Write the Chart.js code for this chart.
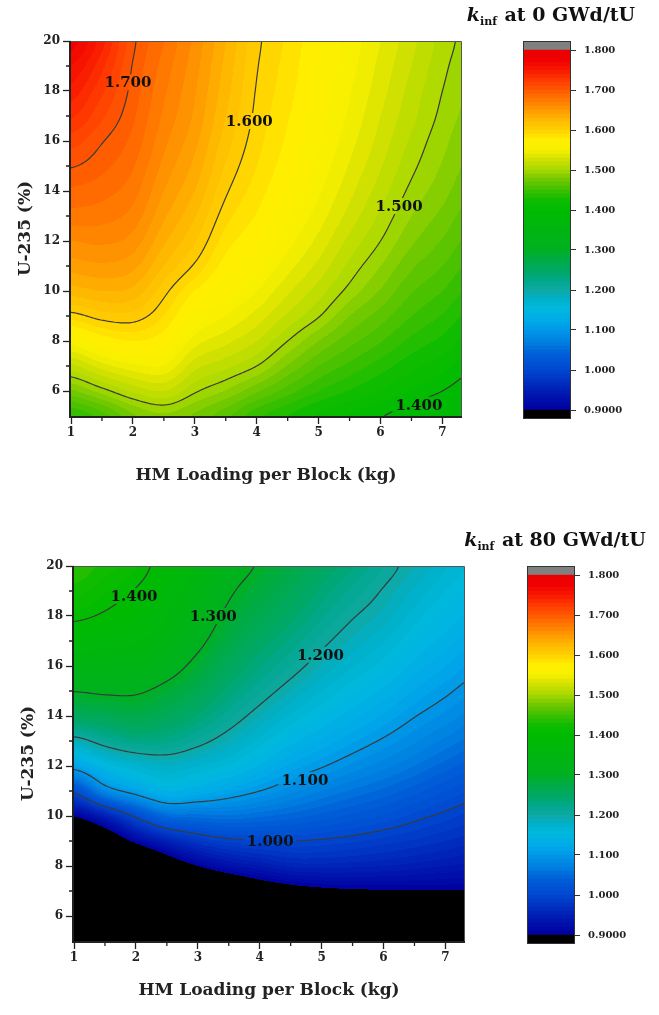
<!DOCTYPE html>
<html>
<head>
<meta charset="utf-8">
<title>k-inf maps</title>
<script src="https://cdn.jsdelivr.net/npm/chart.js@4.4.1/dist/chart.umd.min.js"></script>
<style>
  html, body { margin: 0; padding: 0; background: #fff; width: 659px; height: 1015px; overflow: hidden; }
  canvas { position: absolute; }
</style>
</head>
<body>
<canvas id="map0" width="500" height="500" style="left:0px;top:0px"></canvas>
<canvas id="bar0" width="219" height="500" style="left:440px;top:0px"></canvas>
<canvas id="map80" width="500" height="490" style="left:3px;top:525px"></canvas>
<canvas id="bar80" width="219" height="490" style="left:444px;top:525px"></canvas>
<script>
// grid axes: HM loading per block (kg) across, U-235 enrichment (%) top to bottom
const loading = [1, 1.5, 2, 2.5, 3, 3.5, 4, 4.5, 5, 5.5, 6, 6.5, 7, 7.5];
const enrichment = [20, 19, 18, 17, 16, 15, 14, 13, 12, 11, 10, 9, 8, 7, 6, 5];

// k-inf at 0 GWd/tU, one row per enrichment value
const kinf0 = [
  [1.775, 1.744, 1.703, 1.680, 1.657, 1.630, 1.603, 1.588, 1.571, 1.556, 1.540, 1.523, 1.506, 1.494],
  [1.760, 1.733, 1.699, 1.676, 1.654, 1.627, 1.601, 1.586, 1.569, 1.554, 1.537, 1.520, 1.503, 1.491],
  [1.746, 1.722, 1.696, 1.672, 1.651, 1.624, 1.599, 1.584, 1.567, 1.551, 1.534, 1.516, 1.500, 1.488],
  [1.732, 1.712, 1.692, 1.668, 1.648, 1.620, 1.597, 1.581, 1.564, 1.548, 1.530, 1.513, 1.497, 1.485],
  [1.715, 1.701, 1.687, 1.663, 1.643, 1.615, 1.594, 1.578, 1.561, 1.544, 1.526, 1.508, 1.493, 1.481],
  [1.701, 1.693, 1.681, 1.657, 1.637, 1.609, 1.590, 1.574, 1.557, 1.539, 1.521, 1.503, 1.489, 1.476],
  [1.688, 1.684, 1.674, 1.650, 1.630, 1.602, 1.585, 1.569, 1.552, 1.533, 1.515, 1.497, 1.484, 1.470],
  [1.676, 1.674, 1.666, 1.642, 1.621, 1.594, 1.579, 1.562, 1.545, 1.526, 1.508, 1.490, 1.477, 1.463],
  [1.660, 1.662, 1.656, 1.632, 1.611, 1.585, 1.571, 1.554, 1.537, 1.517, 1.500, 1.482, 1.469, 1.455],
  [1.645, 1.648, 1.643, 1.620, 1.598, 1.575, 1.561, 1.544, 1.527, 1.507, 1.490, 1.472, 1.460, 1.446],
  [1.625, 1.630, 1.627, 1.604, 1.580, 1.564, 1.550, 1.532, 1.515, 1.496, 1.479, 1.461, 1.450, 1.436],
  [1.595, 1.605, 1.606, 1.590, 1.563, 1.550, 1.536, 1.518, 1.501, 1.480, 1.465, 1.450, 1.439, 1.425],
  [1.556, 1.572, 1.580, 1.572, 1.545, 1.533, 1.520, 1.500, 1.480, 1.464, 1.451, 1.437, 1.427, 1.414],
  [1.517, 1.535, 1.547, 1.549, 1.524, 1.513, 1.500, 1.479, 1.460, 1.447, 1.435, 1.423, 1.414, 1.402],
  [1.478, 1.495, 1.512, 1.520, 1.502, 1.489, 1.472, 1.455, 1.440, 1.429, 1.419, 1.409, 1.400, 1.390],
  [1.440, 1.455, 1.478, 1.488, 1.478, 1.463, 1.443, 1.430, 1.418, 1.409, 1.401, 1.393, 1.385, 1.376]
];

// k-inf at 80 GWd/tU
const kinf80 = [
  [1.440, 1.425, 1.412, 1.384, 1.355, 1.320, 1.296, 1.274, 1.251, 1.231, 1.210, 1.190, 1.171, 1.158],
  [1.425, 1.412, 1.398, 1.373, 1.342, 1.306, 1.281, 1.260, 1.237, 1.217, 1.198, 1.178, 1.160, 1.147],
  [1.406, 1.396, 1.382, 1.360, 1.328, 1.291, 1.266, 1.245, 1.222, 1.202, 1.186, 1.165, 1.148, 1.135],
  [1.375, 1.368, 1.362, 1.342, 1.310, 1.275, 1.249, 1.228, 1.206, 1.187, 1.171, 1.151, 1.135, 1.121],
  [1.340, 1.340, 1.336, 1.318, 1.288, 1.256, 1.231, 1.210, 1.189, 1.171, 1.155, 1.136, 1.120, 1.106],
  [1.301, 1.306, 1.305, 1.288, 1.264, 1.236, 1.212, 1.190, 1.170, 1.153, 1.137, 1.119, 1.104, 1.090],
  [1.255, 1.262, 1.270, 1.258, 1.238, 1.214, 1.190, 1.168, 1.150, 1.134, 1.118, 1.101, 1.087, 1.073],
  [1.188, 1.212, 1.226, 1.224, 1.208, 1.188, 1.166, 1.144, 1.128, 1.112, 1.097, 1.082, 1.067, 1.054],
  [1.113, 1.150, 1.170, 1.180, 1.170, 1.158, 1.138, 1.117, 1.102, 1.087, 1.074, 1.060, 1.045, 1.032],
  [1.010, 1.080, 1.113, 1.140, 1.130, 1.115, 1.100, 1.084, 1.070, 1.058, 1.047, 1.034, 1.020, 1.008],
  [0.903, 0.950, 1.006, 1.050, 1.055, 1.058, 1.052, 1.045, 1.036, 1.027, 1.018, 1.006, 0.995, 0.985],
  [0.800, 0.850, 0.910, 0.950, 0.978, 0.993, 0.998, 1.000, 0.997, 0.992, 0.985, 0.978, 0.970, 0.962],
  [0.700, 0.750, 0.800, 0.860, 0.900, 0.925, 0.940, 0.953, 0.955, 0.953, 0.950, 0.945, 0.940, 0.935],
  [0.600, 0.650, 0.700, 0.760, 0.800, 0.835, 0.862, 0.880, 0.890, 0.895, 0.897, 0.898, 0.898, 0.897],
  [0.500, 0.550, 0.600, 0.660, 0.700, 0.735, 0.765, 0.790, 0.810, 0.820, 0.830, 0.835, 0.840, 0.845],
  [0.400, 0.450, 0.500, 0.560, 0.600, 0.635, 0.665, 0.690, 0.710, 0.730, 0.745, 0.755, 0.760, 0.765]
];

const loadingTicks = [1, 2, 3, 4, 5, 6, 7];
const loadingMinor = [1.5, 2.5, 3.5, 4.5, 5.5, 6.5];
const enrichTicks = [6, 8, 10, 12, 14, 16, 18, 20];
const enrichMinor = [7, 9, 11, 13, 15, 17, 19];
const barTicks = [0.9, 1.0, 1.1, 1.2, 1.3, 1.4, 1.5, 1.6, 1.7, 1.8];
const barTickLabels = ['0.9000', '1.000', '1.100', '1.200', '1.300', '1.400', '1.500', '1.600', '1.700', '1.800'];
const contourLevels = [1.0, 1.1, 1.2, 1.3, 1.4, 1.5, 1.6, 1.7];
const burnupTitles = ['at 0 GWd/tU', 'at 80 GWd/tU'];

// where the inline contour labels sit (data units)
const labelSpots0 = [
  { level: 1.7, x: 1.92, y: 18.35 },
  { level: 1.6, x: 3.88, y: 16.8 },
  { level: 1.5, x: 6.30, y: 13.4 },
  { level: 1.4, x: 6.62, y: 5.45 }
];
const labelSpots80 = [
  { level: 1.4, x: 1.97, y: 18.8 },
  { level: 1.3, x: 3.25, y: 18.0 },
  { level: 1.2, x: 4.98, y: 16.45 },
  { level: 1.1, x: 4.73, y: 11.45 },
  { level: 1.0, x: 4.17, y: 9.0 }
];

// colour ramp for the filled bands
const cmapStops = [0.90, 0.94, 0.97, 1.00, 1.04, 1.07, 1.10, 1.12, 1.15, 1.18,
  1.20, 1.22, 1.25, 1.28, 1.30, 1.40,
  1.425, 1.45, 1.475, 1.50, 1.525, 1.55, 1.575, 1.60,
  1.625, 1.65, 1.675, 1.70, 1.725, 1.75, 1.775, 1.80];
const cmapColours = ['#0000a0', '#0018b0', '#0030c0', '#0048d0', '#0060d8', '#0080e0', '#0098e8', '#00a8e8', '#00b8e0', '#00b0c8',
  '#10a8a0', '#00a890', '#00a860', '#00ac40', '#00b020', '#00bb00',
  '#10bc00', '#40c000', '#70c800', '#a8d800', '#d0e000', '#f8f000', '#ffee00', '#ffd000',
  '#ffb800', '#ff9800', '#ff7800', '#ff5800', '#ff3800', '#f81800', '#f00000', '#e80000'];

const bandLow = 0.9, bandHigh = 1.8, bandStep = 0.01, capStep = 0.02;
const underRgb = [0, 0, 0], overRgb = [128, 128, 128];

Chart.defaults.font.family = "'DejaVu Serif', serif";
Chart.defaults.color = '#222';

function hexToRgb(h) {
  const n = parseInt(h.slice(1), 16);
  return [(n >> 16) & 255, (n >> 8) & 255, n & 255];
}
const stopRgb = cmapColours.map(hexToRgb);

function rampColour(v) {
  if (v <= cmapStops[0]) return stopRgb[0];
  for (let i = 1; i < cmapStops.length; i++) {
    if (v <= cmapStops[i]) {
      const t = (v - cmapStops[i - 1]) / (cmapStops[i] - cmapStops[i - 1]);
      const a = stopRgb[i - 1], b = stopRgb[i];
      return a.map((c, j) => Math.round(c + (b[j] - c) * t));
    }
  }
  return stopRgb[stopRgb.length - 1];
}

const bandCount = Math.round((bandHigh - bandLow) / bandStep);
const bandRgb = [];
for (let b = 0; b < bandCount; b++) bandRgb.push(rampColour(bandLow + (b + 0.5) * bandStep));

function bandColour(k) {
  if (k < bandLow) return underRgb;
  if (k >= bandHigh) return overRgb;
  return bandRgb[Math.min(bandCount - 1, Math.floor((k - bandLow) / bandStep + 1e-9))];
}

// Catmull-Rom through four neighbours
function cr(p0, p1, p2, p3, t) {
  return p1 + 0.5 * t * (p2 - p0 + t * (2 * p0 - 5 * p1 + 4 * p2 - p3 + t * (3 * (p1 - p2) + p3 - p0)));
}

function sampleGrid(grid, vx, vy) {
  const nx = loading.length, ny = enrichment.length;
  const fx = (vx - loading[0]) / (loading[1] - loading[0]);
  const fy = (vy - enrichment[0]) / (enrichment[1] - enrichment[0]);
  const ix = Math.max(0, Math.min(nx - 2, Math.floor(fx)));
  const iy = Math.max(0, Math.min(ny - 2, Math.floor(fy)));
  const tx = fx - ix, ty = fy - iy;
  const at = (r, c) => grid[Math.max(0, Math.min(ny - 1, r))][Math.max(0, Math.min(nx - 1, c))];
  const rows = [];
  for (let r = iy - 1; r <= iy + 2; r++) {
    rows.push(cr(at(r, ix - 1), at(r, ix), at(r, ix + 1), at(r, ix + 2), tx));
  }
  return cr(rows[0], rows[1], rows[2], rows[3], ty);
}

// filled bands, contour lines and inline labels inside the plot area
function mapPlugin(grid, spots) {
  return {
    id: 'kmap',
    beforeDatasetsDraw(chart) {
      const { ctx, chartArea: a, scales: { x, y } } = chart;
      const left = Math.round(a.left), top = Math.round(a.top);
      const w = Math.round(a.right) - left, h = Math.round(a.bottom) - top;

      const off = document.createElement('canvas');
      off.width = w; off.height = h;
      const octx = off.getContext('2d');
      const img = octx.createImageData(w, h);
      const vxs = [];
      for (let i = 0; i < w; i++) vxs.push(x.getValueForPixel(left + i + 0.5));
      for (let j = 0; j < h; j++) {
        const vy = y.getValueForPixel(top + j + 0.5);
        for (let i = 0; i < w; i++) {
          const c = bandColour(sampleGrid(grid, vxs[i], vy));
          const p = (j * w + i) * 4;
          img.data[p] = c[0]; img.data[p + 1] = c[1]; img.data[p + 2] = c[2]; img.data[p + 3] = 255;
        }
      }
      octx.putImageData(img, 0, 0);
      ctx.drawImage(off, left, top);

      // marching squares on a 2 px lattice
      const step = 2;
      const nx = Math.ceil(w / step), ny = Math.ceil(h / step);
      const px = [], py = [];
      for (let i = 0; i <= nx; i++) px.push(left + Math.min(w, i * step));
      for (let j = 0; j <= ny; j++) py.push(top + Math.min(h, j * step));
      const val = py.map(Y => {
        const vy = y.getValueForPixel(Y);
        return px.map(X => sampleGrid(grid, x.getValueForPixel(X), vy));
      });

      ctx.save();
      ctx.font = 'bold 15px "DejaVu Serif"';
      const placed = spots.map(s => {
        const text = s.level.toFixed(3);
        return { text, cx: x.getPixelForValue(s.x), cy: y.getPixelForValue(s.y), tw: ctx.measureText(text).width };
      });
      // cut the lines where the labels go
      ctx.beginPath();
      ctx.rect(a.left, a.top, a.right - a.left, a.bottom - a.top);
      placed.forEach(p => ctx.rect(p.cx - p.tw / 2 - 3, p.cy - 8, p.tw + 6, 16));
      ctx.clip('evenodd');

      ctx.beginPath();
      contourLevels.forEach(level => {
        for (let j = 0; j < ny; j++) {
          for (let i = 0; i < nx; i++) {
            const v0 = val[j][i], v1 = val[j][i + 1], v2 = val[j + 1][i + 1], v3 = val[j + 1][i];
            const pts = [];
            const edge = (va, vb, xa, ya, xb, yb) => {
              if ((va < level) !== (vb < level)) {
                const t = (level - va) / (vb - va);
                pts.push([xa + (xb - xa) * t, ya + (yb - ya) * t]);
              }
            };
            edge(v0, v1, px[i], py[j], px[i + 1], py[j]);
            edge(v1, v2, px[i + 1], py[j], px[i + 1], py[j + 1]);
            edge(v3, v2, px[i], py[j + 1], px[i + 1], py[j + 1]);
            edge(v0, v3, px[i], py[j], px[i], py[j + 1]);
            for (let k = 0; k + 1 < pts.length; k += 2) {
              ctx.moveTo(pts[k][0], pts[k][1]);
              ctx.lineTo(pts[k + 1][0], pts[k + 1][1]);
            }
          }
        }
      });
      ctx.strokeStyle = '#3a3a3a';
      ctx.lineWidth = 1.2;
      ctx.lineCap = 'round';
      ctx.stroke();
      ctx.restore();

      ctx.save();
      ctx.font = 'bold 15px "DejaVu Serif"';
      ctx.fillStyle = '#111';
      ctx.textAlign = 'center';
      ctx.textBaseline = 'middle';
      placed.forEach(p => ctx.fillText(p.text, p.cx, p.cy + 1));
      ctx.restore();
    },
    afterDraw(chart) {
      const { ctx, chartArea: a, scales: { x, y } } = chart;
      ctx.save();
      // thin frame on top and right
      ctx.strokeStyle = '#555';
      ctx.lineWidth = 1;
      ctx.beginPath();
      ctx.moveTo(a.left, a.top + 0.5); ctx.lineTo(a.right + 0.5, a.top + 0.5); ctx.lineTo(a.right + 0.5, a.bottom);
      ctx.stroke();
      // axis lines
      ctx.strokeStyle = '#222';
      ctx.lineWidth = 2;
      ctx.beginPath();
      ctx.moveTo(a.left - 1, a.top); ctx.lineTo(a.left - 1, a.bottom + 1); ctx.lineTo(a.right + 1, a.bottom + 1);
      ctx.stroke();
      // minor ticks
      ctx.lineWidth = 1.3;
      ctx.beginPath();
      loadingMinor.forEach(v => {
        const p = x.getPixelForValue(v);
        ctx.moveTo(p, a.bottom + 1); ctx.lineTo(p, a.bottom + 5);
      });
      enrichMinor.forEach(v => {
        const p = y.getPixelForValue(v);
        ctx.moveTo(a.left - 1, p); ctx.lineTo(a.left - 5, p);
      });
      ctx.stroke();
      ctx.restore();
    }
  };
}

function makeMap(id, grid, spots, xAxisHeight) {
  return new Chart(document.getElementById(id), {
    type: 'scatter',
    data: { datasets: [] },
    options: {
      responsive: false,
      animation: false,
      events: [],
      layout: { padding: { left: 0, top: 41, right: 39, bottom: 0 } },
      plugins: { legend: { display: false }, tooltip: { enabled: false } },
      scales: {
        x: {
          type: 'linear', min: 1, max: 7.3,
          afterFit: s => { s.height = xAxisHeight; },
          afterBuildTicks: s => { s.ticks = loadingTicks.map(v => ({ value: v })); },
          ticks: { font: { size: 12, weight: 'bold' }, padding: 2, maxRotation: 0, autoSkip: false },
          grid: { drawOnChartArea: false, tickLength: 8, tickColor: '#222', tickWidth: 1.3 },
          border: { display: false },
          title: { display: true, text: 'HM Loading per Block (kg)', font: { size: 17, weight: 'bold' }, padding: { bottom: 14 } }
        },
        y: {
          type: 'linear', min: 5, max: 20,
          afterFit: s => { s.width = 71; },
          afterBuildTicks: s => { s.ticks = enrichTicks.map(v => ({ value: v })); },
          ticks: { font: { size: 12, weight: 'bold' }, padding: 3, autoSkip: false },
          grid: { drawOnChartArea: false, tickLength: 8, tickColor: '#222', tickWidth: 1.3 },
          border: { display: false },
          title: { display: true, text: 'U-235 (%)', font: { size: 17, weight: 'bold' }, padding: { top: 15 } }
        }
      }
    },
    plugins: [mapPlugin(grid, spots)]
  });
}

// colour bar title: italic k with "inf" subscript
function titlePlugin(text) {
  return {
    id: 'ktitle',
    afterDraw(chart) {
      const ctx = chart.ctx;
      const big = 'bold 19px "DejaVu Serif"', kFont = 'italic bold 19px "DejaVu Serif"', sub = 'bold 11px "DejaVu Serif"';
      const rest = ' ' + text;
      ctx.save();
      ctx.fillStyle = '#111';
      ctx.textBaseline = 'alphabetic';
      ctx.font = kFont; const wk = ctx.measureText('k').width;
      ctx.font = sub; const ws = ctx.measureText('inf').width;
      ctx.font = big; const wr = ctx.measureText(rest).width;
      let x0 = 111 - (wk + ws + 1 + wr) / 2;
      const base = 21;
      ctx.font = kFont; ctx.fillText('k', x0, base); x0 += wk;
      ctx.font = sub; ctx.fillText('inf', x0, base + 4); x0 += ws + 1;
      ctx.font = big; ctx.fillText(rest, x0, base);
      ctx.restore();
    }
  };
}

const barFrame = {
  id: 'barFrame',
  afterDraw(chart) {
    const { ctx, chartArea: a } = chart;
    ctx.save();
    ctx.strokeStyle = '#333';
    ctx.lineWidth = 1;
    ctx.strokeRect(a.left - 0.5, a.top - 0.5, a.right - a.left + 1, a.bottom - a.top + 1);
    ctx.restore();
  }
};

function makeBar(id, title, bottomPad) {
  const toCss = c => `rgb(${c[0]},${c[1]},${c[2]})`;
  const bands = [{ lo: bandLow - capStep, hi: bandLow, col: toCss(underRgb) }];
  for (let b = 0; b < bandCount; b++) {
    bands.push({ lo: bandLow + b * bandStep, hi: bandLow + (b + 1) * bandStep, col: toCss(bandRgb[b]) });
  }
  bands.push({ lo: bandHigh, hi: bandHigh + capStep, col: toCss(overRgb) });
  return new Chart(document.getElementById(id), {
    type: 'bar',
    data: {
      labels: [''],
      datasets: bands.map(b => ({
        data: [[b.lo, b.hi]],
        backgroundColor: b.col,
        borderWidth: 0,
        grouped: false,
        barPercentage: 1,
        categoryPercentage: 1
      }))
    },
    options: {
      responsive: false,
      animation: false,
      events: [],
      layout: { padding: { left: 84, top: 42, right: 0, bottom: bottomPad } },
      plugins: { legend: { display: false }, tooltip: { enabled: false } },
      scales: {
        x: { display: false },
        y: {
          position: 'right', min: 0.88, max: 1.82,
          afterFit: s => { s.width = 89; },
          afterBuildTicks: s => { s.ticks = barTicks.map(v => ({ value: v })); },
          ticks: { font: { size: 10, weight: 'bold' }, padding: 8, autoSkip: false, callback: (v, i) => barTickLabels[i] },
          grid: { drawOnChartArea: false, tickLength: 6, tickColor: '#333', tickWidth: 1 },
          border: { display: false }
        }
      }
    },
    plugins: [barFrame, titlePlugin(title)]
  });
}

makeMap('map0', kinf0, labelSpots0, 84);
makeBar('bar0', burnupTitles[0], 82);
makeMap('map80', kinf80, labelSpots80, 74);
makeBar('bar80', burnupTitles[1], 72);
</script>
</body>
</html>
